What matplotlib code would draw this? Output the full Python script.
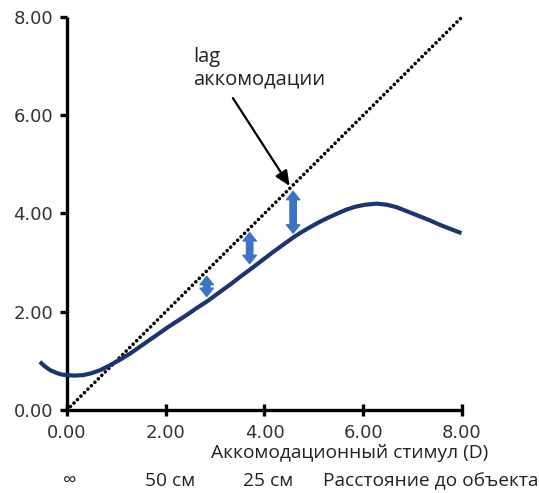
import matplotlib
matplotlib.use('Agg')
import matplotlib.pyplot as plt
from matplotlib.patches import FancyArrowPatch
import numpy as np

# response curve (accommodation response vs stimulus)
stim = [-0.55, -0.45, -0.34, -0.2, -0.1, 0.0, 0.15, 0.33, 0.5, 0.67, 0.85, 1.07,
        1.28, 1.48, 1.68, 1.88, 2.05, 2.22, 2.42, 2.62, 2.85, 3.08, 3.30,
        3.52, 3.75, 3.97, 4.18, 4.40, 4.58, 4.75, 4.92, 5.10, 5.30, 5.48,
        5.66, 5.85, 6.05, 6.27, 6.47, 6.67, 6.90, 7.15, 7.35, 7.55, 7.78, 7.99]
resp = [0.98, 0.89, 0.81, 0.75, 0.72, 0.71, 0.70, 0.71, 0.75, 0.81, 0.90, 1.02,
        1.15, 1.29, 1.43, 1.57, 1.69, 1.80, 1.93, 2.07, 2.22, 2.39, 2.55,
        2.72, 2.89, 3.06, 3.22, 3.38, 3.51, 3.62, 3.72, 3.82, 3.92, 4.00,
        4.08, 4.14, 4.18, 4.20, 4.18, 4.13, 4.04, 3.94, 3.86, 3.77, 3.68, 3.60]

# ideal 1:1 line
ideal_x = [0, 8]
ideal_y = [0, 8]

# lag arrows
lag_x = [2.83, 3.70, 4.58]
lag_lo = [2.31, 2.98, 3.60]
lag_hi = [2.72, 3.61, 4.45]

ticks = [0, 2, 4, 6, 8]
tick_labels = ['0.00', '2.00', '4.00', '6.00', '8.00']

dist_px = [70, 170, 268]
dist_labels = ['\u221e', '50 см', '25 см']

fig = plt.figure(figsize=(5.39, 4.93), dpi=100)
ax = fig.add_axes([0.1243, 0.1684, 0.7328, 0.7971])
ax.set_xlim(0, 8)
ax.set_ylim(0, 8)

# dotted ideal line
ax.plot(ideal_x, ideal_y, color='black', lw=2.6, linestyle=(0, (0.01, 1.35)),
        dash_capstyle='round', zorder=3, clip_on=False)

# response curve
ax.plot(stim, resp, color='#1c3571', lw=3.0, clip_on=False, zorder=4,
        solid_capstyle='butt', solid_joinstyle='round')

# double arrows for lag
for x, lo, hi in zip(lag_x, lag_lo, lag_hi):
    mid = (lo + hi) / 2
    for end in (lo, hi):
        ax.add_patch(FancyArrowPatch((x, mid), (x, end),
                                     arrowstyle='simple,head_length=0.5,head_width=0.8,tail_width=0.38',
                                     mutation_scale=12, color='#3b74c2',
                                     shrinkA=0, shrinkB=0, zorder=5))

# annotation
ax.text(2.55, 7.39, 'lag\nаккомодации', fontsize=14.5, family='Open Sans',
        color='#222222', ha='left', va='top', linespacing=1.15)
ax.annotate('', xy=(4.51, 4.56), xytext=(3.36, 6.35),
            arrowprops=dict(arrowstyle='-|>,head_length=0.9,head_width=0.4',
                            color='black', lw=1.6, shrinkA=0, shrinkB=0))

for s in ['top', 'right']:
    ax.spines[s].set_visible(False)
for s in ['left', 'bottom']:
    ax.spines[s].set_linewidth(2.4)
    ax.spines[s].set_capstyle('butt')

ax.set_xticks(ticks)
ax.set_xticklabels(tick_labels)
ax.set_yticks(ticks)
ax.set_yticklabels(tick_labels)
ax.tick_params(axis='x', direction='inout', length=8, width=2.4, pad=6,
               labelsize=13, labelcolor='#333333')
ax.tick_params(axis='y', direction='out', length=5, width=2.4, pad=5,
               labelsize=13, labelcolor='#333333')
for lab in ax.get_xticklabels() + ax.get_yticklabels():
    lab.set_family('DejaVu Sans')

# axis captions
fig.text(488 / 539, 1 - 453 / 493, 'Аккомодационный стимул (D)', ha='right',
         va='center', fontsize=13.8, family='Open Sans', color='#222222')
for px, lab in zip(dist_px, dist_labels):
    fig.text(px / 539, 1 - 481 / 493, lab, ha='center', va='center',
             fontsize=13.8, family='Open Sans', color='#222222')
fig.text(538 / 539, 1 - 481 / 493, 'Расстояние до объекта', ha='right',
         va='center', fontsize=13.8, family='Open Sans', color='#222222')

fig.savefig('out.png', dpi=100)
